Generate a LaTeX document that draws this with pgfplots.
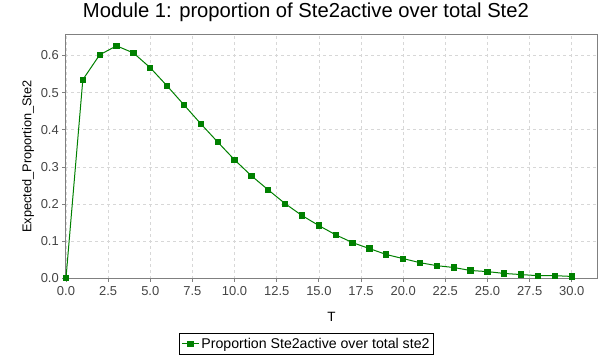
\documentclass[border=0pt]{standalone}
\usepackage{pgfplots}
\pgfplotsset{compat=1.18}
\usepackage{fontspec}
\setmainfont{Liberation Sans}
\definecolor{serie}{RGB}{0,128,0}
\definecolor{frame}{RGB}{128,128,128}
\definecolor{gridc}{RGB}{215,215,215}
\definecolor{ticktext}{RGB}{68,68,68}

\pgfplotstableread{
T   P
0   0.000
1   0.535
2   0.602
3   0.626
4   0.607
5   0.567
6   0.518
7   0.467
8   0.416
9   0.367
10  0.319
11  0.276
12  0.238
13  0.201
14  0.169
15  0.142
16  0.117
17  0.096
18  0.080
19  0.064
20  0.053
21  0.042
22  0.034
23  0.029
24  0.021
25  0.018
26  0.013
27  0.010
28  0.007
29  0.007
30  0.005
}\ratio

\begin{document}
\begin{tikzpicture}[x=1bp,y=1bp]
\begin{axis}[
    at={(0,0)}, anchor=south west,
    scale only axis,
    width=532.4bp, height=244.3bp,
    xmin=-0.04, xmax=31.54,
    ymin=-0.001, ymax=0.657,
    xtick distance=2.5,
    ytick distance=0.1,
    /pgf/number format/.cd, fixed, fixed zerofill, precision=1, assume math mode=true,
    /pgfplots/.cd,
    tick align=outside,
    tick pos=left,
    major tick length=3bp,
    tick style={frame, line width=0.8bp},
    axis line style={frame, line width=1bp},
    grid=major,
    major grid style={gridc, dash pattern=on 3bp off 3bp, line width=0.6bp},
    ticklabel style={font=\fontsize{13}{15}\selectfont, text=ticktext},
    xticklabel style={yshift=-1bp},
    title={Module 1: proportion of Ste2active over total Ste2},
    title style={font=\fontsize{20.3}{24}\selectfont, at={(0.452,1.064)}, anchor=center},
    xlabel={T},
    xlabel style={font=\fontsize{13.5}{15}\selectfont, at={(0.5,-0.156)}, anchor=center},
    ylabel={Expected\_Proportion\_Ste2},
    ylabel style={font=\fontsize{12.8}{14}\selectfont, at={(-0.070,0.5)}, anchor=center, rotate=0},
    legend style={at={(0.453,-0.266)}, anchor=center, draw=black, line width=0.8bp,
        font=\fontsize{14.2}{16}\selectfont, inner xsep=2bp, inner ysep=2.5bp,
        /tikz/every even column/.append style={column sep=2bp}},
    legend cell align=left,
    clip=false,
]
\addplot[serie, line width=1bp, mark=square*, mark size=2.6bp,
    mark options={fill=serie, draw=serie, line width=0pt}]
    table[x=T, y=P] {\ratio};
\addlegendentry{Proportion Ste2active over total ste2}
\end{axis}
\useasboundingbox (-65.3,-77) rectangle (543.7,277);
\end{tikzpicture}
\end{document}
